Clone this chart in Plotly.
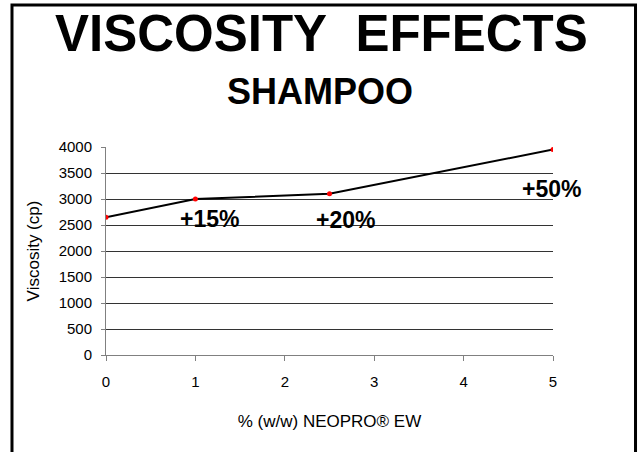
import plotly.graph_objects as go

# Viscosity of a shampoo base vs. NEOPRO EW dose
dose_pct = [0, 1, 2.5, 5]
viscosity_cp = [2650, 3000, 3100, 3950]

# Increase labels (text, x, y in data units)
gain_labels = ["+15%", "+20%", "+50%"]
gain_x = [1.16, 2.68, 4.98]
gain_y = [2620, 2600, 3190]

x_ticks = [0, 1, 2, 3, 4, 5]
y_ticks = [0, 500, 1000, 1500, 2000, 2500, 3000, 3500, 4000]

FONT = "Liberation Sans, Arial, Helvetica, sans-serif"

fig = go.Figure()
fig.add_trace(go.Scatter(
    x=dose_pct, y=viscosity_cp, mode="lines+markers",
    line=dict(color="black", width=2),
    marker=dict(color="red", size=5),
    showlegend=False, hoverinfo="x+y",
))

for txt, gx, gy in zip(gain_labels, gain_x, gain_y):
    fig.add_annotation(x=gx, y=gy, xref="x", yref="y", text=f"<b>{txt}</b>",
                       showarrow=False, font=dict(family=FONT, size=23, color="black"))

fig.add_annotation(x=0.481, y=1.694, xref="paper", yref="paper",
                   text="<b>VISCOSITY\u00a0\u00a0EFFECTS</b>", showarrow=False,
                   font=dict(family=FONT, size=51, color="black"))
fig.add_annotation(x=0.479, y=1.373, xref="paper", yref="paper",
                   text="<b>SHAMPOO</b>", showarrow=False,
                   font=dict(family=FONT, size=36, color="black"))

# Outer frame around the slide
fig.add_shape(type="rect", xref="paper", yref="paper",
              x0=-0.2103, x1=1.1846, y0=-0.7, y1=1.6827,
              line=dict(color="black", width=3), fillcolor="rgba(0,0,0,0)")

fig.update_layout(
    width=640, height=452,
    margin=dict(l=106, r=87, t=147, b=97),
    paper_bgcolor="white", plot_bgcolor="white",
    font=dict(family=FONT, size=15, color="black"),
    xaxis=dict(
        range=[0, 5], tickvals=x_ticks, showgrid=False, zeroline=False,
        showline=True, linecolor="#808080", linewidth=1,
        ticks="outside", ticklen=5, tickcolor="#808080",
        tickfont=dict(size=15), ticklabelstandoff=8,
        title=dict(text="% (w/w) NEOPRO® EW", font=dict(size=17), standoff=26),
    ),
    yaxis=dict(
        range=[0, 4000], tickvals=y_ticks, showgrid=True, gridcolor="#333333",
        gridwidth=1, zeroline=False,
        showline=True, linecolor="#808080", linewidth=1,
        ticks="outside", ticklen=4, tickcolor="#808080",
        tickfont=dict(size=15), ticklabelstandoff=6,
        title=dict(text="Viscosity (cp)", font=dict(size=17), standoff=14),
    ),
)

fig.write_html("out.html")
